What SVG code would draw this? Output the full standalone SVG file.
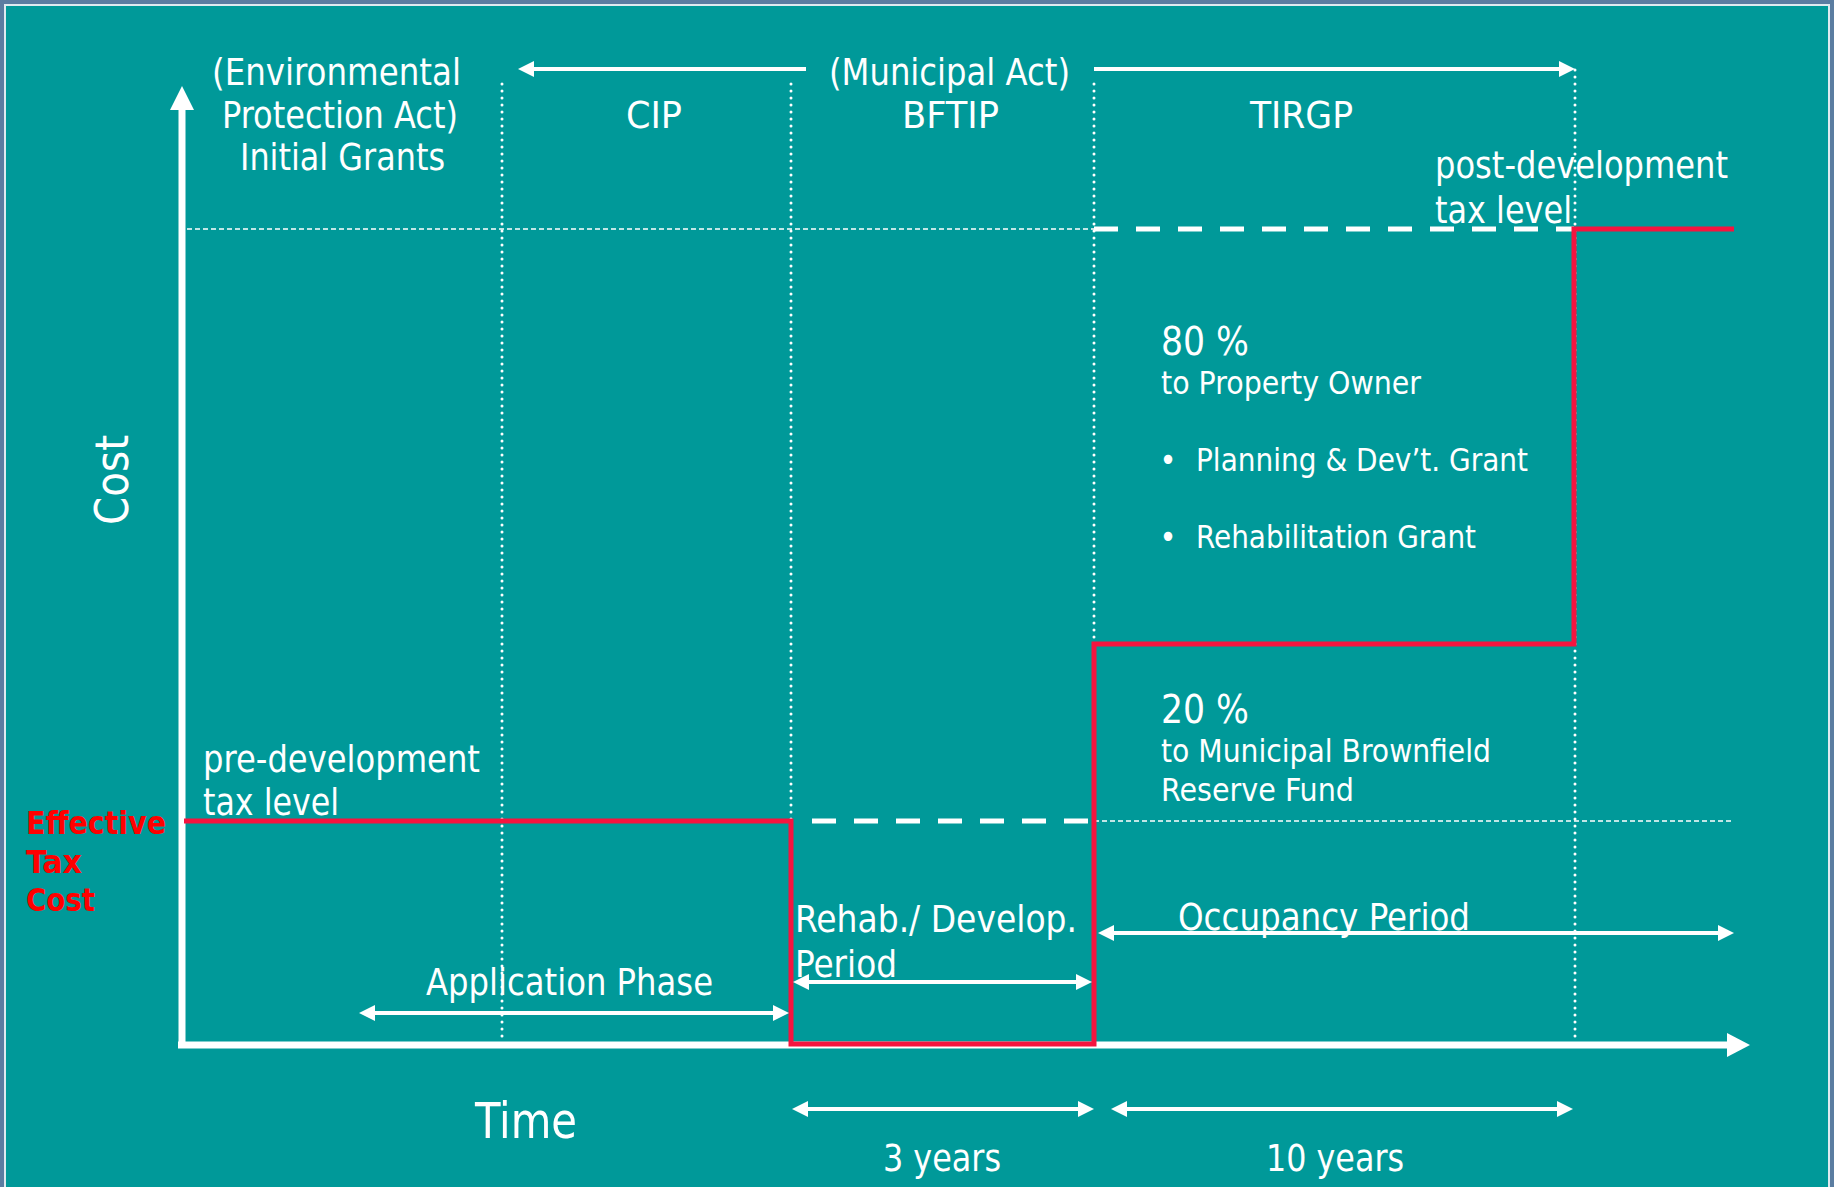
<svg xmlns="http://www.w3.org/2000/svg" width="1834" height="1187" viewBox="0 0 1834 1187">
<defs>
<style>
.t{font-family:"DejaVu Sans Condensed","DejaVu Sans",sans-serif;font-stretch:condensed;fill:#ffffff}
.h{font-size:38px}
.b{font-size:32px}
.p{font-size:39px}
.r{font-family:"DejaVu Sans Condensed","DejaVu Sans",sans-serif;font-stretch:condensed;font-weight:bold;font-size:32px;fill:#ff0000}
.dot{stroke:#ffffff;stroke-width:3;stroke-linecap:round;stroke-dasharray:0 7;fill:none}
.thin{stroke:#ffffff;stroke-width:1.5;stroke-dasharray:5 3;fill:none}
.thick{stroke:#ffffff;stroke-width:5;stroke-dasharray:24 18;fill:none}
.arr{stroke:#ffffff;stroke-width:4;fill:none}
.red{stroke:#f5143f;stroke-width:5;fill:none;stroke-linejoin:miter}
</style>
<marker id="ah" viewBox="0 0 16 16" refX="0" refY="8" markerWidth="16" markerHeight="16" markerUnits="userSpaceOnUse" orient="auto-start-reverse">
<path d="M0,0 L16,8 L0,16 Z" fill="#ffffff"/>
</marker>
</defs>
<rect x="0" y="0" width="1834" height="1187" fill="#5b7da1"/>
<rect x="5" y="5" width="1824" height="1190" fill="#009999" stroke="#dfeaf0" stroke-width="2"/>

<g id="gridlines">
<line class="dot" x1="502" y1="84" x2="502" y2="1040"/>
<line class="dot" x1="791" y1="84" x2="791" y2="1040"/>
<line class="dot" x1="1094" y1="84" x2="1094" y2="1040"/>
<line class="dot" x1="1575" y1="70" x2="1575" y2="1040"/>
<line class="thin" x1="187" y1="229" x2="1094" y2="229"/>
<line class="thin" x1="1094" y1="821" x2="1734" y2="821"/>
<line class="thick" x1="1094" y1="229" x2="1574" y2="229"/>
<line class="thick" x1="812" y1="821" x2="1094" y2="821"/>
</g>

<g id="axes">
<line x1="182" y1="1048" x2="182" y2="108" stroke="#ffffff" stroke-width="7"/>
<polygon points="182,86 170,110 194,110" fill="#ffffff"/>
<line x1="178" y1="1045" x2="1728" y2="1045" stroke="#ffffff" stroke-width="7"/>
<polygon points="1750,1045 1727,1033 1727,1057" fill="#ffffff"/>
</g>

<g id="effective-tax-line">
<polyline class="red" points="184,821 791,821 791,1044 1094,1044 1094,644 1574,644 1574,229 1734,229"/>
</g>

<g id="connectors">
<line class="arr" x1="806" y1="69" x2="534" y2="69" marker-end="url(#ah)"/>
<line class="arr" x1="1094" y1="69" x2="1559" y2="69" marker-end="url(#ah)"/>
<line class="arr" x1="375" y1="1013" x2="773" y2="1013" marker-start="url(#ah)" marker-end="url(#ah)"/>
<line class="arr" x1="809" y1="982" x2="1076" y2="982" marker-start="url(#ah)" marker-end="url(#ah)"/>
<line class="arr" x1="1114" y1="933" x2="1718" y2="933" marker-start="url(#ah)" marker-end="url(#ah)"/>
<line class="arr" x1="808" y1="1109" x2="1078" y2="1109" marker-start="url(#ah)" marker-end="url(#ah)"/>
<line class="arr" x1="1127" y1="1109" x2="1557" y2="1109" marker-start="url(#ah)" marker-end="url(#ah)"/>
</g>

<g id="header-environmental">
<text class="t h" x="212" y="85" textLength="249" lengthAdjust="spacingAndGlyphs">(Environmental</text>
<text class="t h" x="222" y="128" textLength="236" lengthAdjust="spacingAndGlyphs">Protection Act)</text>
<text class="t h" x="240" y="170" textLength="205" lengthAdjust="spacingAndGlyphs">Initial Grants</text>
</g>
<g id="header-cip">
<text class="t h" x="626" y="128" textLength="56" lengthAdjust="spacingAndGlyphs">CIP</text>
</g>
<g id="header-municipal">
<text class="t h" x="829" y="85" textLength="241" lengthAdjust="spacingAndGlyphs">(Municipal Act)</text>
<text class="t h" x="902" y="128" textLength="97" lengthAdjust="spacingAndGlyphs">BFTIP</text>
</g>
<g id="header-tirgp">
<text class="t h" x="1250" y="128" textLength="103" lengthAdjust="spacingAndGlyphs">TIRGP</text>
</g>
<g id="post-development">
<text class="t h" x="1435" y="178" textLength="293" lengthAdjust="spacingAndGlyphs">post-development</text>
<text class="t h" x="1435" y="223" textLength="137" lengthAdjust="spacingAndGlyphs">tax level</text>
</g>
<g id="share-80">
<text class="t p" x="1161" y="355" textLength="88" lengthAdjust="spacingAndGlyphs">80 %</text>
<text class="t b" x="1161" y="394" textLength="260" lengthAdjust="spacingAndGlyphs">to Property Owner</text>
<text class="t b" x="1168" y="471" text-anchor="middle">•</text>
<text class="t b" x="1196" y="471" textLength="332" lengthAdjust="spacingAndGlyphs">Planning &amp; Dev’t. Grant</text>
<text class="t b" x="1168" y="548" text-anchor="middle">•</text>
<text class="t b" x="1196" y="548" textLength="280" lengthAdjust="spacingAndGlyphs">Rehabilitation Grant</text>
</g>
<g id="share-20">
<text class="t p" x="1161" y="723" textLength="88" lengthAdjust="spacingAndGlyphs">20 %</text>
<text class="t b" x="1161" y="762" textLength="330" lengthAdjust="spacingAndGlyphs">to Municipal Brownfield</text>
<text class="t b" x="1161" y="801" textLength="193" lengthAdjust="spacingAndGlyphs">Reserve Fund</text>
</g>
<g id="pre-development">
<text class="t h" x="203" y="772" textLength="277" lengthAdjust="spacingAndGlyphs">pre-development</text>
<text class="t h" x="203" y="815" textLength="136" lengthAdjust="spacingAndGlyphs">tax level</text>
</g>
<g id="effective-label">
<text class="r" x="26" y="834" textLength="140" lengthAdjust="spacingAndGlyphs">Effective</text>
<text class="r" x="26" y="873" textLength="56" lengthAdjust="spacingAndGlyphs">Tax</text>
<text class="r" x="26" y="911" textLength="69" lengthAdjust="spacingAndGlyphs">Cost</text>
</g>
<g id="cost-axis-label">
<text class="t" font-size="46" transform="translate(128,480) rotate(-90)" text-anchor="middle" textLength="90" lengthAdjust="spacingAndGlyphs">Cost</text>
</g>
<g id="rehab-period">
<text class="t h" x="795" y="932" textLength="282" lengthAdjust="spacingAndGlyphs">Rehab./ Develop.</text>
<text class="t h" x="795" y="977" textLength="102" lengthAdjust="spacingAndGlyphs">Period</text>
</g>
<g id="occupancy-period">
<text class="t h" x="1178" y="930" textLength="292" lengthAdjust="spacingAndGlyphs">Occupancy Period</text>
</g>
<g id="application-phase">
<text class="t h" x="426" y="995" textLength="287" lengthAdjust="spacingAndGlyphs">Application Phase</text>
</g>
<g id="time-label">
<text class="t" font-size="50" x="475" y="1138" textLength="102" lengthAdjust="spacingAndGlyphs">Time</text>
</g>
<g id="duration-3">
<text class="t h" x="883" y="1171" textLength="118" lengthAdjust="spacingAndGlyphs">3 years</text>
</g>
<g id="duration-10">
<text class="t h" x="1266" y="1171" textLength="138" lengthAdjust="spacingAndGlyphs">10 years</text>
</g>
</svg>
